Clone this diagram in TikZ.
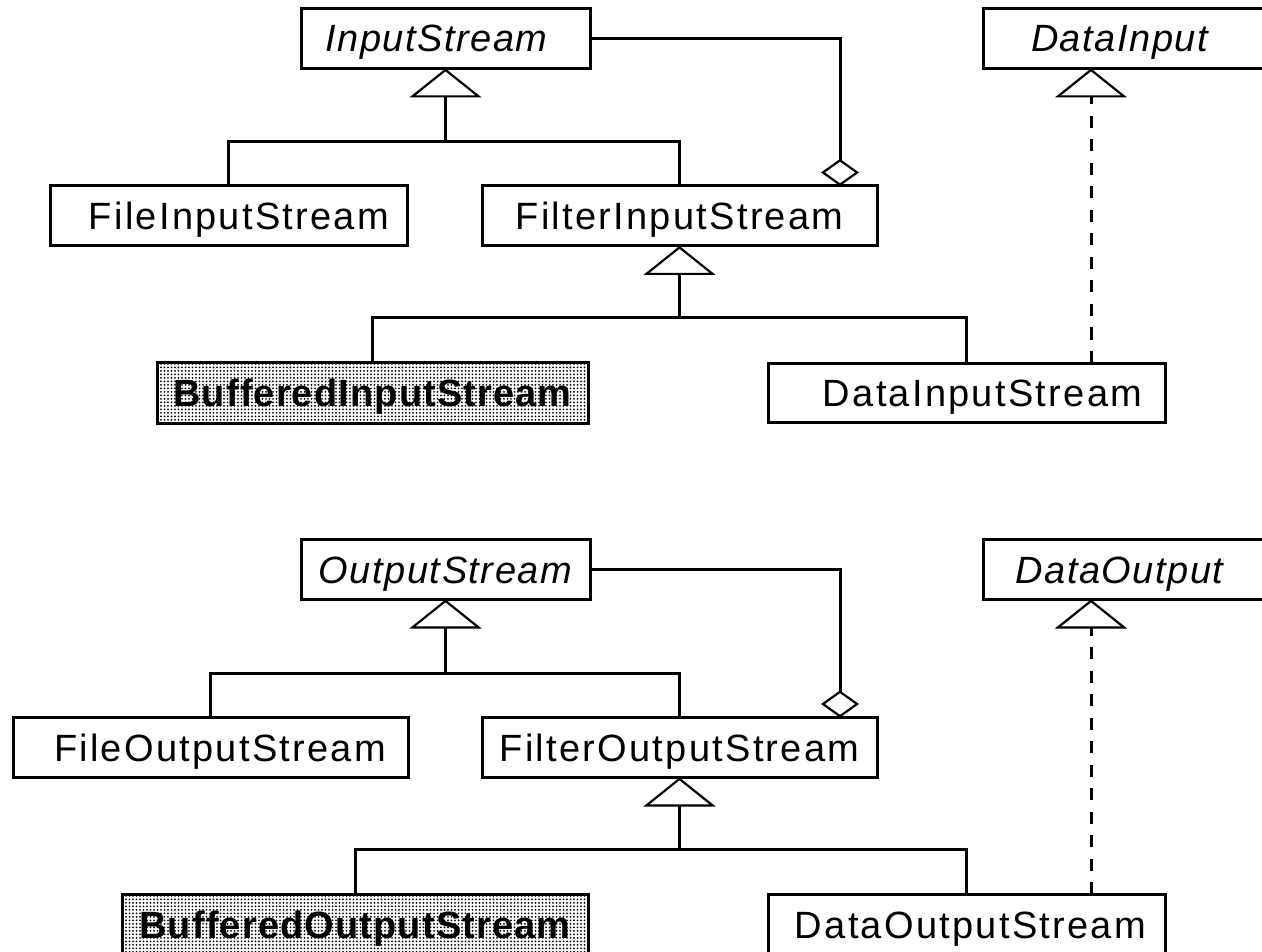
\documentclass[tikz,border=0pt]{standalone}
\usepackage{fontspec}
\setmainfont{Liberation Sans}[LetterSpace=6]
\newfontfamily\bufffont{Liberation Sans}[LetterSpace=3]
\newfontfamily\itfont{Liberation Sans Italic}[LetterSpace=4]
\usetikzlibrary{arrows.meta,patterns.meta}
\begin{document}
\begin{tikzpicture}[x=1pt,y=-1pt,
  box/.style={draw, line width=3pt, rectangle, inner sep=0pt, outer sep=0pt,
    minimum height=60pt, text height=27pt, text depth=0pt,
    font=\fontsize{38}{40}\selectfont},
  abstr/.style={box, font=\itfont\fontsize{38}{40}\selectfont},
  buff/.style={box, pattern={Dots[distance=3.5pt, radius=1pt]},
    font=\bufffont\bfseries\fontsize{38}{40}\selectfont},
  conn/.style={line width=3pt},
  gen/.style={-{Triangle[open, length=29pt, width=72pt, line width=2.2pt]}},
  agg/.style={-{Diamond[open, length=27pt, width=38pt, line width=2.2pt]}},
  real/.style={dash pattern=on 12pt off 11.5pt}]
\useasboundingbox (0,0) rectangle (1262,952);
% ---------- input side ----------
\node[abstr, minimum width=289pt] (is) at (445.5,38.5) {InputStream\hspace*{18pt}};
\node[abstr, minimum width=281pt] (di) at (1123.5,38.5) {DataInput\hspace*{8pt}};
\node[box, minimum width=357pt] (fis) at (228.5,216) {\hspace*{21pt}FileInputStream};
\node[box, minimum width=395pt] (fil) at (679.5,216) {FilterInputStream};
\node[buff, minimum width=431pt, minimum height=61pt] (bis) at (372.5,392.5) {BufferedInputStream};
\node[box, minimum width=397pt, minimum height=59pt] (dis) at (966.5,392.5) {\hspace*{32pt}DataInputStream};
\coordinate (jI) at (445.5,142);
\coordinate (jF) at (679.5,318);
\coordinate (aI) at (840,186);
\coordinate (rI) at (1091,363);
\draw[conn] (fis.north) |- (jI) -| (fil.north);
\draw[conn, gen] (jI) -- (is.south);
\draw[conn, agg] (is.east) -| (aI);
\draw[conn] (bis.north) |- (jF) -| (dis.north);
\draw[conn, gen] (jF) -- (fil.south);
\draw[conn, gen, real] (rI) -- (rI |- di.south);
% ---------- output side ----------
\node[abstr, minimum width=289pt] (os) at (445.5,569.5) {OutputStream};
\node[abstr, minimum width=281pt] (do) at (1123.5,569.5) {DataOutput\hspace*{8pt}};
\node[box, minimum width=395pt] (fos) at (210.5,747.5) {\hspace*{19pt}FileOutputStream};
\node[box, minimum width=395pt] (fol) at (679.5,747.5) {FilterOutputStream};
\node[buff, minimum width=466pt, minimum height=62pt] (bos) at (355,925) {BufferedOutputStream};
\node[box, minimum width=397pt, minimum height=62pt] (dos) at (966.5,925) {\hspace*{8pt}DataOutputStream};
\coordinate (jO) at (445.5,673);
\coordinate (jFO) at (679.5,849);
\coordinate (aO) at (840,717.5);
\coordinate (rO) at (1091,894);
\draw[conn] (fos.north) |- (jO) -| (fol.north);
\draw[conn, gen] (jO) -- (os.south);
\draw[conn, agg] (os.east) -| (aO);
\draw[conn] (bos.north) |- (jFO) -| (dos.north);
\draw[conn, gen] (jFO) -- (fol.south);
\draw[conn, gen, real] (rO) -- (rO |- do.south);
\end{tikzpicture}
\end{document}
